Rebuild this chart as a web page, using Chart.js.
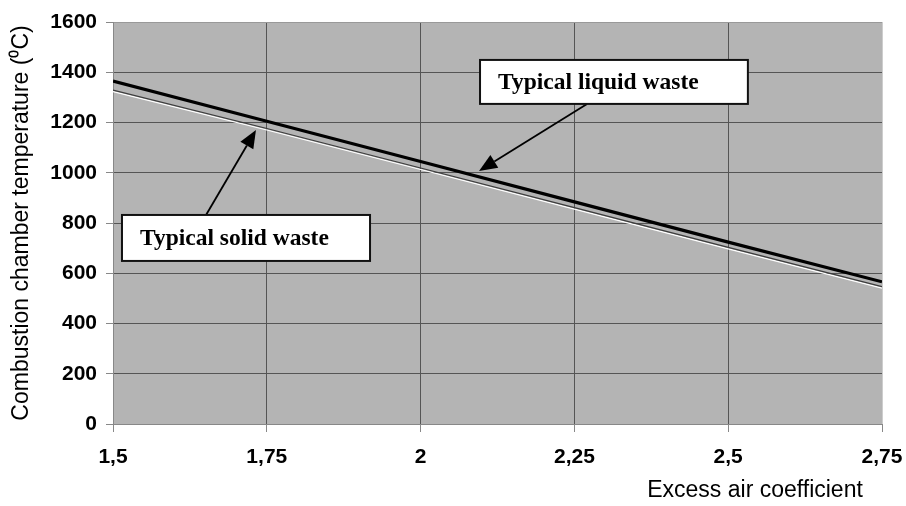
<!DOCTYPE html>
<html>
<head>
<meta charset="utf-8">
<script src="https://cdn.jsdelivr.net/npm/chart.js@4/dist/chart.umd.min.js"></script>
<style>
html,body{margin:0;padding:0;background:#fff;}
#wrap{width:906px;height:506px;position:relative;}
</style>
</head>
<body>
<div id="wrap"><canvas id="c" width="906" height="506"></canvas></div>
<script>
const excessAir = [1.5, 1.75, 2, 2.25, 2.5, 2.75];
const liquidWaste = [1365, 1205, 1045, 884, 724, 566];
const solidWaste = [1329, 1176, 1019, 861, 703, 547];
const yTicks = [0, 200, 400, 600, 800, 1000, 1200, 1400, 1600];
const seriesNames = ['Typical liquid waste', 'Typical solid waste'];

// annotation boxes / arrows in data coordinates
const notes = [
  {text: seriesNames[0], box: [2.0966, 1449, 2.532, 1274], from: [2.2705, 1274], to: [2.095, 1007]},
  {text: seriesNames[1], box: [1.5146, 832, 1.9178, 649], from: [1.6512, 832], to: [1.7324, 1170]}
];

const plotBg = {
  id: 'plotBg',
  beforeDraw(chart) {
    const {ctx, chartArea: a} = chart;
    ctx.save();
    ctx.fillStyle = '#b4b4b4';
    ctx.fillRect(a.left, a.top, a.right - a.left, a.bottom - a.top);
    ctx.restore();
  }
};

const shadowLine = {
  id: 'shadowLine',
  beforeDatasetDraw(chart, args) {
    if (args.index === 1) {
      const ctx = chart.ctx;
      ctx.save();
      ctx.shadowColor = '#ffffff';
      ctx.shadowOffsetY = 1.5;
      ctx.shadowOffsetX = 0;
      ctx.shadowBlur = 0;
    }
  },
  afterDatasetDraw(chart, args) {
    if (args.index === 1) chart.ctx.restore();
  }
};

const notesPlugin = {
  id: 'notes',
  afterDatasetsDraw(chart) {
    const {ctx, scales: {x, y}} = chart;
    ctx.save();
    notes.forEach(n => {
      const x0 = x.getPixelForValue(n.box[0]), y0 = y.getPixelForValue(n.box[1]);
      const x1 = x.getPixelForValue(n.box[2]), y1 = y.getPixelForValue(n.box[3]);
      const fx = x.getPixelForValue(n.from[0]), fy = y.getPixelForValue(n.from[1]);
      const tx = x.getPixelForValue(n.to[0]), ty = y.getPixelForValue(n.to[1]);
      const ang = Math.atan2(ty - fy, tx - fx);
      const L = 18, W = 7.5;
      const bx = tx - L * Math.cos(ang), by = ty - L * Math.sin(ang);
      ctx.strokeStyle = '#000';
      ctx.lineWidth = 1.8;
      ctx.beginPath();
      ctx.moveTo(fx, fy);
      ctx.lineTo(bx, by);
      ctx.stroke();
      ctx.fillStyle = '#000';
      ctx.beginPath();
      ctx.moveTo(tx, ty);
      ctx.lineTo(bx + W * Math.sin(ang), by - W * Math.cos(ang));
      ctx.lineTo(bx - W * Math.sin(ang), by + W * Math.cos(ang));
      ctx.closePath();
      ctx.fill();
      ctx.fillStyle = '#ffffff';
      ctx.fillRect(x0, y0, x1 - x0, y1 - y0);
      ctx.lineWidth = 2;
      ctx.strokeStyle = '#111';
      ctx.strokeRect(x0, y0, x1 - x0, y1 - y0);
      ctx.fillStyle = '#000';
      ctx.font = 'bold 23.5px "Liberation Serif", "Times New Roman", serif';
      ctx.textBaseline = 'middle';
      ctx.textAlign = 'left';
      ctx.fillText(n.text, x0 + 18, (y0 + y1) / 2 + 1);
    });
    ctx.restore();
  }
};

const fmt = v => String(v).replace('.', ',');

new Chart(document.getElementById('c'), {
  type: 'line',
  data: {
    datasets: [
      {
        label: seriesNames[0],
        data: excessAir.map((v, i) => ({x: v, y: liquidWaste[i]})),
        borderColor: '#000000',
        borderWidth: 3.2,
        pointRadius: 0,
        tension: 0,
        fill: false
      },
      {
        label: seriesNames[1],
        data: excessAir.map((v, i) => ({x: v, y: solidWaste[i]})),
        borderColor: '#3c3c3c',
        borderWidth: 1.2,
        pointRadius: 0,
        tension: 0,
        fill: false
      }
    ]
  },
  options: {
    responsive: false,
    animation: false,
    layout: {padding: {top: 22, right: 24, left: 0, bottom: 0}},
    plugins: {legend: {display: false}, tooltip: {enabled: false}},
    scales: {
      x: {
        type: 'linear',
        min: excessAir[0],
        max: excessAir[excessAir.length - 1],
        afterBuildTicks: s => { s.ticks = excessAir.map(v => ({value: v})); },
        ticks: {
          callback: v => fmt(v),
          color: '#000',
          font: {family: '"Liberation Sans", Arial, sans-serif', size: 21, weight: 'bold'},
          padding: 13,
          maxRotation: 0,
          autoSkip: false
        },
        grid: {
          color: c => (c.index === excessAir.length - 1 ? '#cdcdcd' : '#555555'),
          tickColor: '#888888',
          tickLength: 8,
          lineWidth: 1
        },
        border: {color: '#888888', width: 1},
        title: {
          display: true,
          text: 'Excess air coefficient   ',
          align: 'end',
          color: '#000',
          font: {family: '"Liberation Sans", Arial, sans-serif', size: 23, weight: 'normal'},
          padding: {top: 0, bottom: 2}
        },
        afterFit: s => { s.height = 82; s.paddingRight = 0; s.paddingLeft = 0; }
      },
      y: {
        type: 'linear',
        min: yTicks[0],
        max: yTicks[yTicks.length - 1],
        afterBuildTicks: s => { s.ticks = yTicks.map(v => ({value: v})); },
        ticks: {
          callback: v => String(v),
          color: '#000',
          font: {family: '"Liberation Sans", Arial, sans-serif', size: 21, weight: 'bold'},
          padding: 9
        },
        grid: {
          color: c => (c.index === yTicks.length - 1 ? '#999999' : '#555555'),
          tickColor: '#888888',
          tickLength: 7,
          lineWidth: 1
        },
        border: {color: '#888888', width: 1},
        title: {
          display: true,
          text: 'Combustion chamber temperature (⁰C)',
          color: '#000',
          font: {family: '"Liberation Sans", Arial, sans-serif', size: 23, weight: 'normal'},
          padding: {top: 8, bottom: 0}
        },
        afterFit: s => { s.width = 113; s.paddingTop = 0; s.paddingBottom = 0; }
      }
    }
  },
  plugins: [plotBg, shadowLine, notesPlugin]
});
</script>
</body>
</html>
